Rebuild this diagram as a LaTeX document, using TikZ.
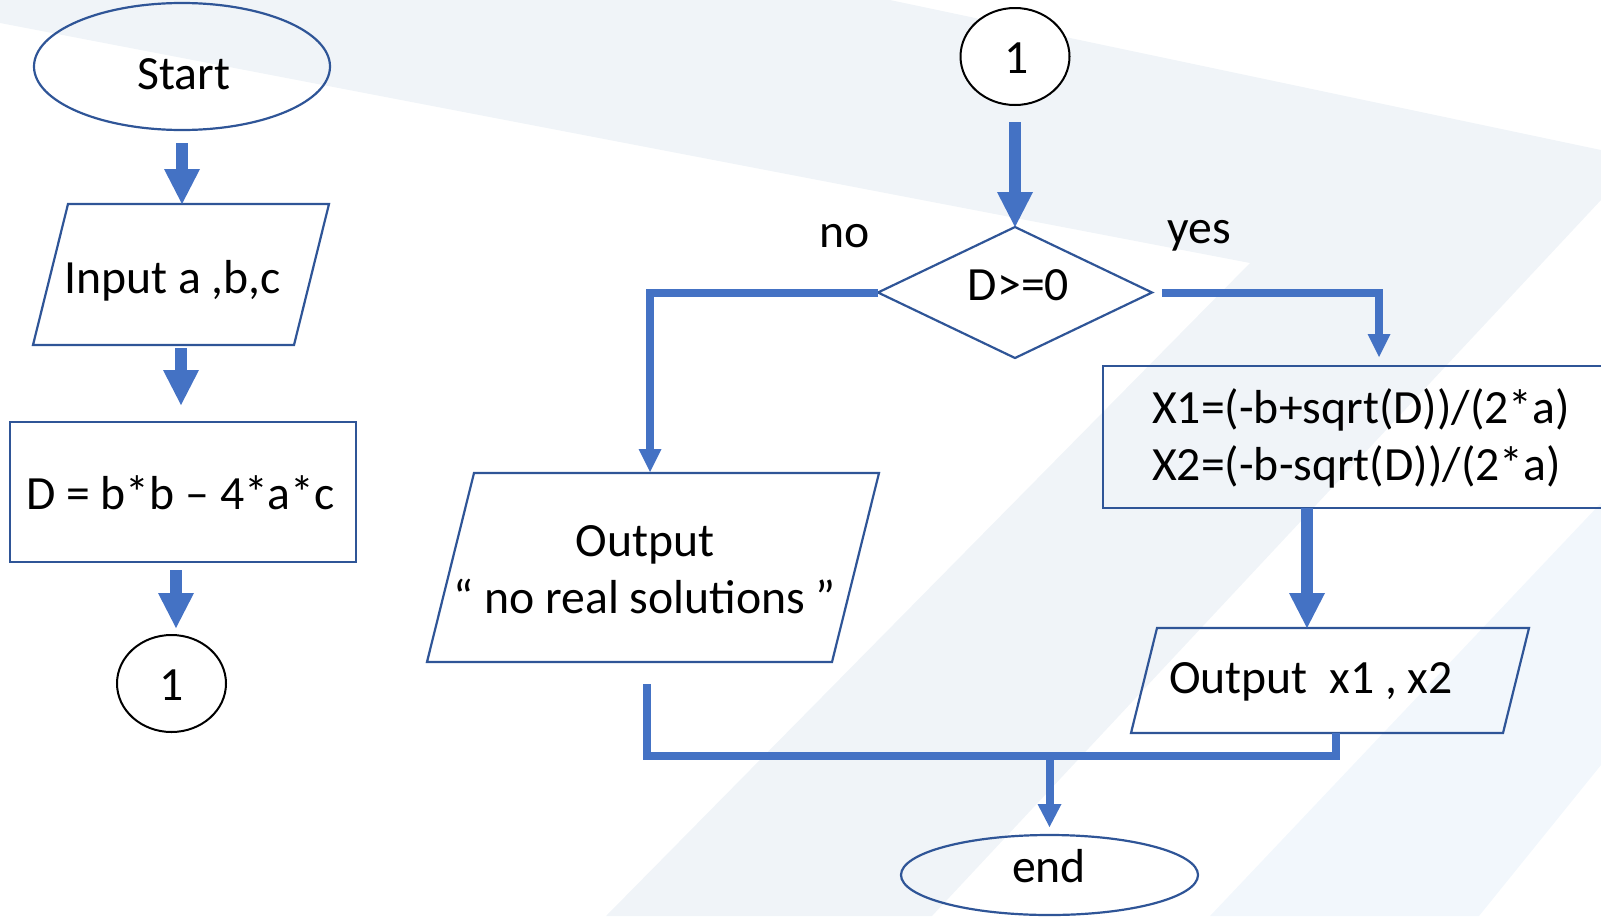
\documentclass[tikz,border=0pt]{standalone}
\usepackage{fontspec}
\setmainfont{Carlito}
\usetikzlibrary{shapes.geometric,arrows.meta,calc}
\definecolor{arrowblue}{RGB}{68,114,196}
\definecolor{shapeblue}{RGB}{47,85,151}
\definecolor{bgA}{RGB}{240,244,248}
\definecolor{bgB}{RGB}{242,247,252}
\begin{document}
\begin{tikzpicture}[x=1pt,y=-1pt,
  txt/.style={font=\fontsize{47.7}{57}\selectfont, inner sep=0pt, anchor=base, text=black},
  terminal/.style={ellipse, draw=shapeblue, line width=2.2pt, inner sep=0pt, outer sep=0pt},
  connector/.style={ellipse, draw=black, fill=white, line width=2pt, inner sep=0pt, outer sep=0pt, minimum width=109pt, minimum height=97pt},
  iobox/.style={rectangle, draw=none, inner sep=0pt, outer sep=0pt},
  shapeline/.style={draw=shapeblue, line width=2.2pt, line join=miter},
  procbox/.style={rectangle, draw=shapeblue, line width=2.2pt, inner sep=0pt, outer sep=0pt},
  decision/.style={diamond, draw=shapeblue, line width=2.2pt, inner sep=0pt, outer sep=0pt},
  bigarrow/.style={draw=arrowblue, line width=12pt, -{Triangle[length=35pt,width=36pt,line width=0pt]}},
  thinarrow/.style={draw=arrowblue, line width=8pt, -{Triangle[length=23pt,width=23pt,line width=0pt]}},
  midarrow/.style={draw=arrowblue, line width=8pt, -{Triangle[length=23pt,width=24pt,line width=0pt]}},
  thinline/.style={draw=arrowblue, line width=8pt}]
\useasboundingbox (0,0) rectangle (1601,916);
\clip (0,0) rectangle (1601,916);
% background
\fill[bgA] (0,0) -- (890,0) -- (1601,150) -- (1601,200) -- (932,916) -- (606,916) -- (1250,263) -- (0,23) -- cycle;
\fill[bgB] (1601,503) -- (1601,765) -- (1479,916) -- (1210,916) -- cycle;

% shapes
\node[terminal, minimum width=296pt, minimum height=127pt] (start) at (182,66.5) {};
\node[iobox, minimum width=296pt, minimum height=141pt] (input) at (181,274.5) {};
\draw[shapeline] ($(input.north west)+(35,0)$) -- (input.north east) -- ($(input.south east)+(-35,0)$) -- (input.south west) -- cycle;
\node[procbox, minimum width=346pt, minimum height=140pt] (dbox) at (183,492) {};
\node[connector] (circ1) at (171.5,683.5) {};
\node[connector] (circ2) at (1015,56.5) {};
\node[decision, minimum width=274pt, minimum height=131pt] (decide) at (1015,292.5) {};
\node[iobox, minimum width=452pt, minimum height=189pt] (noout) at (653,567.5) {};
\draw[shapeline] ($(noout.north west)+(47,0)$) -- (noout.north east) -- ($(noout.south east)+(-47,0)$) -- (noout.south west) -- cycle;
\node[procbox, minimum width=552pt, minimum height=142pt] (xbox) at (1379,437) {};
\node[iobox, minimum width=398pt, minimum height=105pt] (xout) at (1330,680.5) {};
\draw[shapeline] ($(xout.north west)+(26,0)$) -- (xout.north east) -- ($(xout.south east)+(-26,0)$) -- (xout.south west) -- cycle;
\node[terminal, minimum width=297pt, minimum height=80pt] (finish) at (1049.5,875) {};

% texts
\node[txt] (tstart) at (184,89) {Start};
\node[txt] (tinput) at (172.5,293) {Input a ,b,c};
\node[txt] (tdbox) at (180.5,509) {D = b*b – 4*a*c};
\node[txt] (tcirc1) at (172,700) {1};
\node[txt] (tcirc2) at (1017,73) {1};
\node[txt] (tdec) at (1018.5,300) {D>=0};
\node[txt] (tno) at (845,247) {no};
\node[txt] (tyes) at (1199.5,243) {yes};
\node[txt, anchor=base west] (tx1) at (1152,423) {X1=(-b+sqrt(D))/(2*a)};
\node[txt, anchor=base west] (tx2) at (1152,480) {X2=(-b-sqrt(D))/(2*a)};
\node[txt] (tout1) at (645,556) {Output};
\node[txt] (tout2) at (645,613) {“ no real solutions ”};
\node[txt, anchor=base west] (tout3) at (1169,693) {Output\ \ x1 , x2};
\node[txt] (tfinish) at (1049,882) {end};

% connectors
\draw[bigarrow] ($(start.south)+(0,13)$) -- (input.north -| start.south);
\draw[bigarrow] ($(input.south)+(0,3)$) -- ($(input.south |- dbox.north)+(0,-17)$);
\draw[bigarrow] ($(dbox.south)+(-7,8)$) -- ($(dbox.south |- circ1.north)+(-7,-7)$);
\draw[bigarrow] ($(circ2.south)+(0,17)$) -- (decide.north);
\draw[thinarrow] (decide.west) -| ($(noout.north)+(-3,-1)$);
\draw[thinarrow] ($(decide.east)+(10,0)$) -| ($(xbox.north)+(0,-9)$);
\draw[bigarrow] ($(xbox.south -| xout.north)+(-23,0)$) -- ($(xout.north)+(-23,0)$);
\coordinate (join) at ($(finish.north)+(0,-79)$);
\draw[thinline] ($(noout.south)+(-6,22)$) |- (join);
\draw[thinline] ($(xout.south)+(6,0)$) |- (join);
\draw[midarrow] (join) -- ($(finish.north)+(0,-8)$);
\end{tikzpicture}
\end{document}
